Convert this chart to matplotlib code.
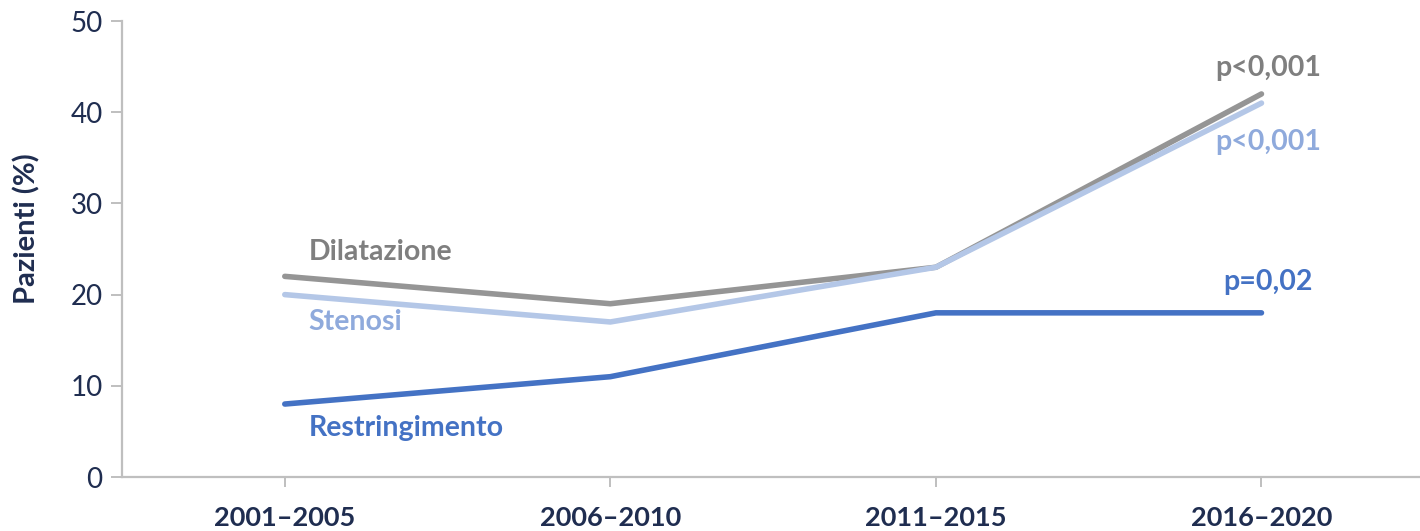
import matplotlib
matplotlib.use("Agg")
import matplotlib.pyplot as plt

# Periods and share of patients (%) per finding
periods = ["2001\u20132005", "2006\u20132010", "2011\u20132015", "2016\u20132020"]
dilatazione = [22, 19, 23, 42]
stenosi = [20, 17, 23, 41]
restringimento = [8, 11, 18, 18]

series_names = ["Dilatazione", "Stenosi", "Restringimento"]
p_values = ["p<0,001", "p<0,001", "p=0,02"]

line_colors = ["#959595", "#b4c7e7", "#4472c4"]
label_colors = ["#7f7f7f", "#8faadc", "#4472c4"]
navy = "#1f2d50"
axis_gray = "#bfbfbf"

plt.rcParams["font.family"] = ["Lato", "DejaVu Sans"]

fig = plt.figure(figsize=(14.2, 5.31), dpi=100)
ax = fig.add_axes([122 / 1420, 1 - 477 / 531, 1 - 122 / 1420 + 0.003, (477 - 21) / 531])

x = list(range(len(periods)))
all_series = [dilatazione, stenosi, restringimento]
for vals, col in zip(all_series, line_colors):
    ax.plot(x, vals, color=col, lw=4.0, solid_capstyle="round", zorder=3)

ax.set_xlim(-0.5, 3.5)
ax.set_ylim(0, 50)
ax.set_yticks(range(0, 51, 10))
ax.set_xticks(x)
ax.set_xticklabels(periods, fontweight="bold")

for s in ["top", "right"]:
    ax.spines[s].set_visible(False)
for s in ["left", "bottom"]:
    ax.spines[s].set_color(axis_gray)
    ax.spines[s].set_linewidth(1.6)

ax.tick_params(axis="y", colors=axis_gray, length=8, width=1.4, labelsize=20,
               labelcolor=navy, pad=6)
ax.tick_params(axis="x", colors=axis_gray, length=7, width=1.4, labelsize=19.5,
               labelcolor=navy, pad=14)

ax.set_ylabel("Pazienti (%)", fontsize=21, fontweight="bold", color=navy)
ax.yaxis.set_label_coords(-0.063, 0.545)

# Series names next to the first period
name_offsets = [2.7, -3.0, -2.6]
for name, vals, col, off in zip(series_names, all_series, label_colors, name_offsets):
    ax.annotate(name, xy=(0, vals[0] + off), xytext=(17, 0), textcoords="offset points",
                fontsize=20.5, fontweight="bold", color=col, ha="left", va="center")

# Trend p-values beside the last period
p_offsets = [2.9, -4.3, 3.4]
for pv, vals, col, off in zip(p_values, all_series, label_colors, p_offsets):
    ax.annotate(pv, xy=(3, vals[-1] + off), xytext=(5, 0), textcoords="offset points",
                fontsize=20.5, fontweight="bold", color=col, ha="center", va="center")

fig.savefig("out.png", dpi=100, facecolor="white")
